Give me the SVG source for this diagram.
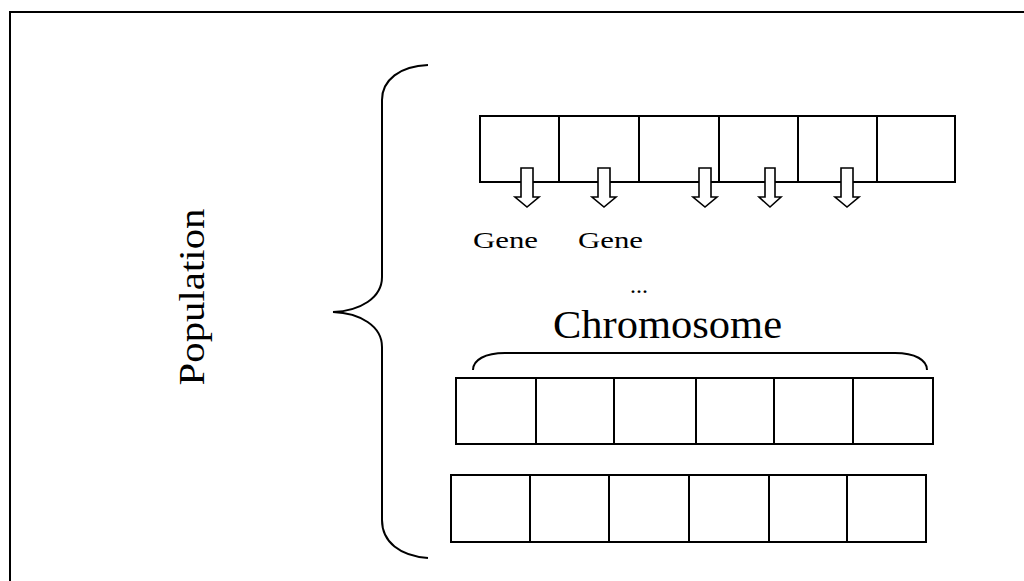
<svg xmlns="http://www.w3.org/2000/svg" width="1024" height="581" viewBox="0 0 1024 581">
<style>
.ln{fill:none;stroke:#000;stroke-width:2}
.cell{fill:#fff;stroke:#000;stroke-width:2}
.arr{fill:#fff;stroke:#000;stroke-width:1.6;stroke-linejoin:miter}
.t{font-family:'Liberation Serif','DejaVu Serif','Noto Serif',serif;fill:#000}
</style>
<rect width="1024" height="581" fill="#fff"/>
<g id="frame"><path class="ln" d="M10,581 V12 H1024"/></g>
<g id="population-label"><text class="t" x="0" y="0" font-size="36" text-anchor="middle" textLength="177" lengthAdjust="spacingAndGlyphs" transform="translate(204,297) rotate(-90)">Population</text></g>
<g id="population-brace"><path class="ln" d="M428,65 C400,66 382,80 382,100 V277 C382,298 360,311 333,312 C360,313 382,326 382,347 V520 C382,542 400,556 428,558"/></g>
<g id="chromosome-1">
<rect class="cell" x="480" y="116" width="79" height="66"/>
<rect class="cell" x="559" y="116" width="80" height="66"/>
<rect class="cell" x="639" y="116" width="80" height="66"/>
<rect class="cell" x="719" y="116" width="79" height="66"/>
<rect class="cell" x="798" y="116" width="79" height="66"/>
<rect class="cell" x="877" y="116" width="78" height="66"/>
</g>
<g id="gene-arrows">
<path class="arr" d="M521,168 h12 v29 h6 l-12,10 l-12,-10 h6 z"/>
<path class="arr" d="M598,168 h12 v29 h6 l-12,10 l-12,-10 h6 z"/>
<path class="arr" d="M699,168 h12 v29 h6 l-12,10 l-12,-10 h6 z"/>
<path class="arr" d="M765,168 h10 v29 h6 l-11,10 l-11,-10 h6 z"/>
<path class="arr" d="M841,168 h12 v29 h6 l-12,10 l-12,-10 h6 z"/>
</g>
<g id="gene-labels">
<text class="t" x="473" y="248" font-size="24" textLength="65" lengthAdjust="spacingAndGlyphs">Gene</text>
<text class="t" x="578" y="248" font-size="24" textLength="65" lengthAdjust="spacingAndGlyphs">Gene</text>
<text class="t" x="639" y="293" font-size="24" text-anchor="middle">...</text>
</g>
<g id="chromosome-label"><text class="t" x="553" y="338" font-size="40" textLength="229" lengthAdjust="spacingAndGlyphs">Chromosome</text></g>
<g id="chromosome-brace"><path class="ln" d="M473,370 C473,360 485,353 505,353 H895 C915,353 927,360 927,370"/></g>
<g id="chromosome-2">
<rect class="cell" x="456" y="378" width="80" height="66"/>
<rect class="cell" x="536" y="378" width="78" height="66"/>
<rect class="cell" x="614" y="378" width="82" height="66"/>
<rect class="cell" x="696" y="378" width="78" height="66"/>
<rect class="cell" x="774" y="378" width="79" height="66"/>
<rect class="cell" x="853" y="378" width="80" height="66"/>
</g>
<g id="chromosome-3">
<rect class="cell" x="451" y="475" width="79" height="67"/>
<rect class="cell" x="530" y="475" width="79" height="67"/>
<rect class="cell" x="609" y="475" width="80" height="67"/>
<rect class="cell" x="689" y="475" width="80" height="67"/>
<rect class="cell" x="769" y="475" width="78" height="67"/>
<rect class="cell" x="847" y="475" width="79" height="67"/>
</g>
</svg>
